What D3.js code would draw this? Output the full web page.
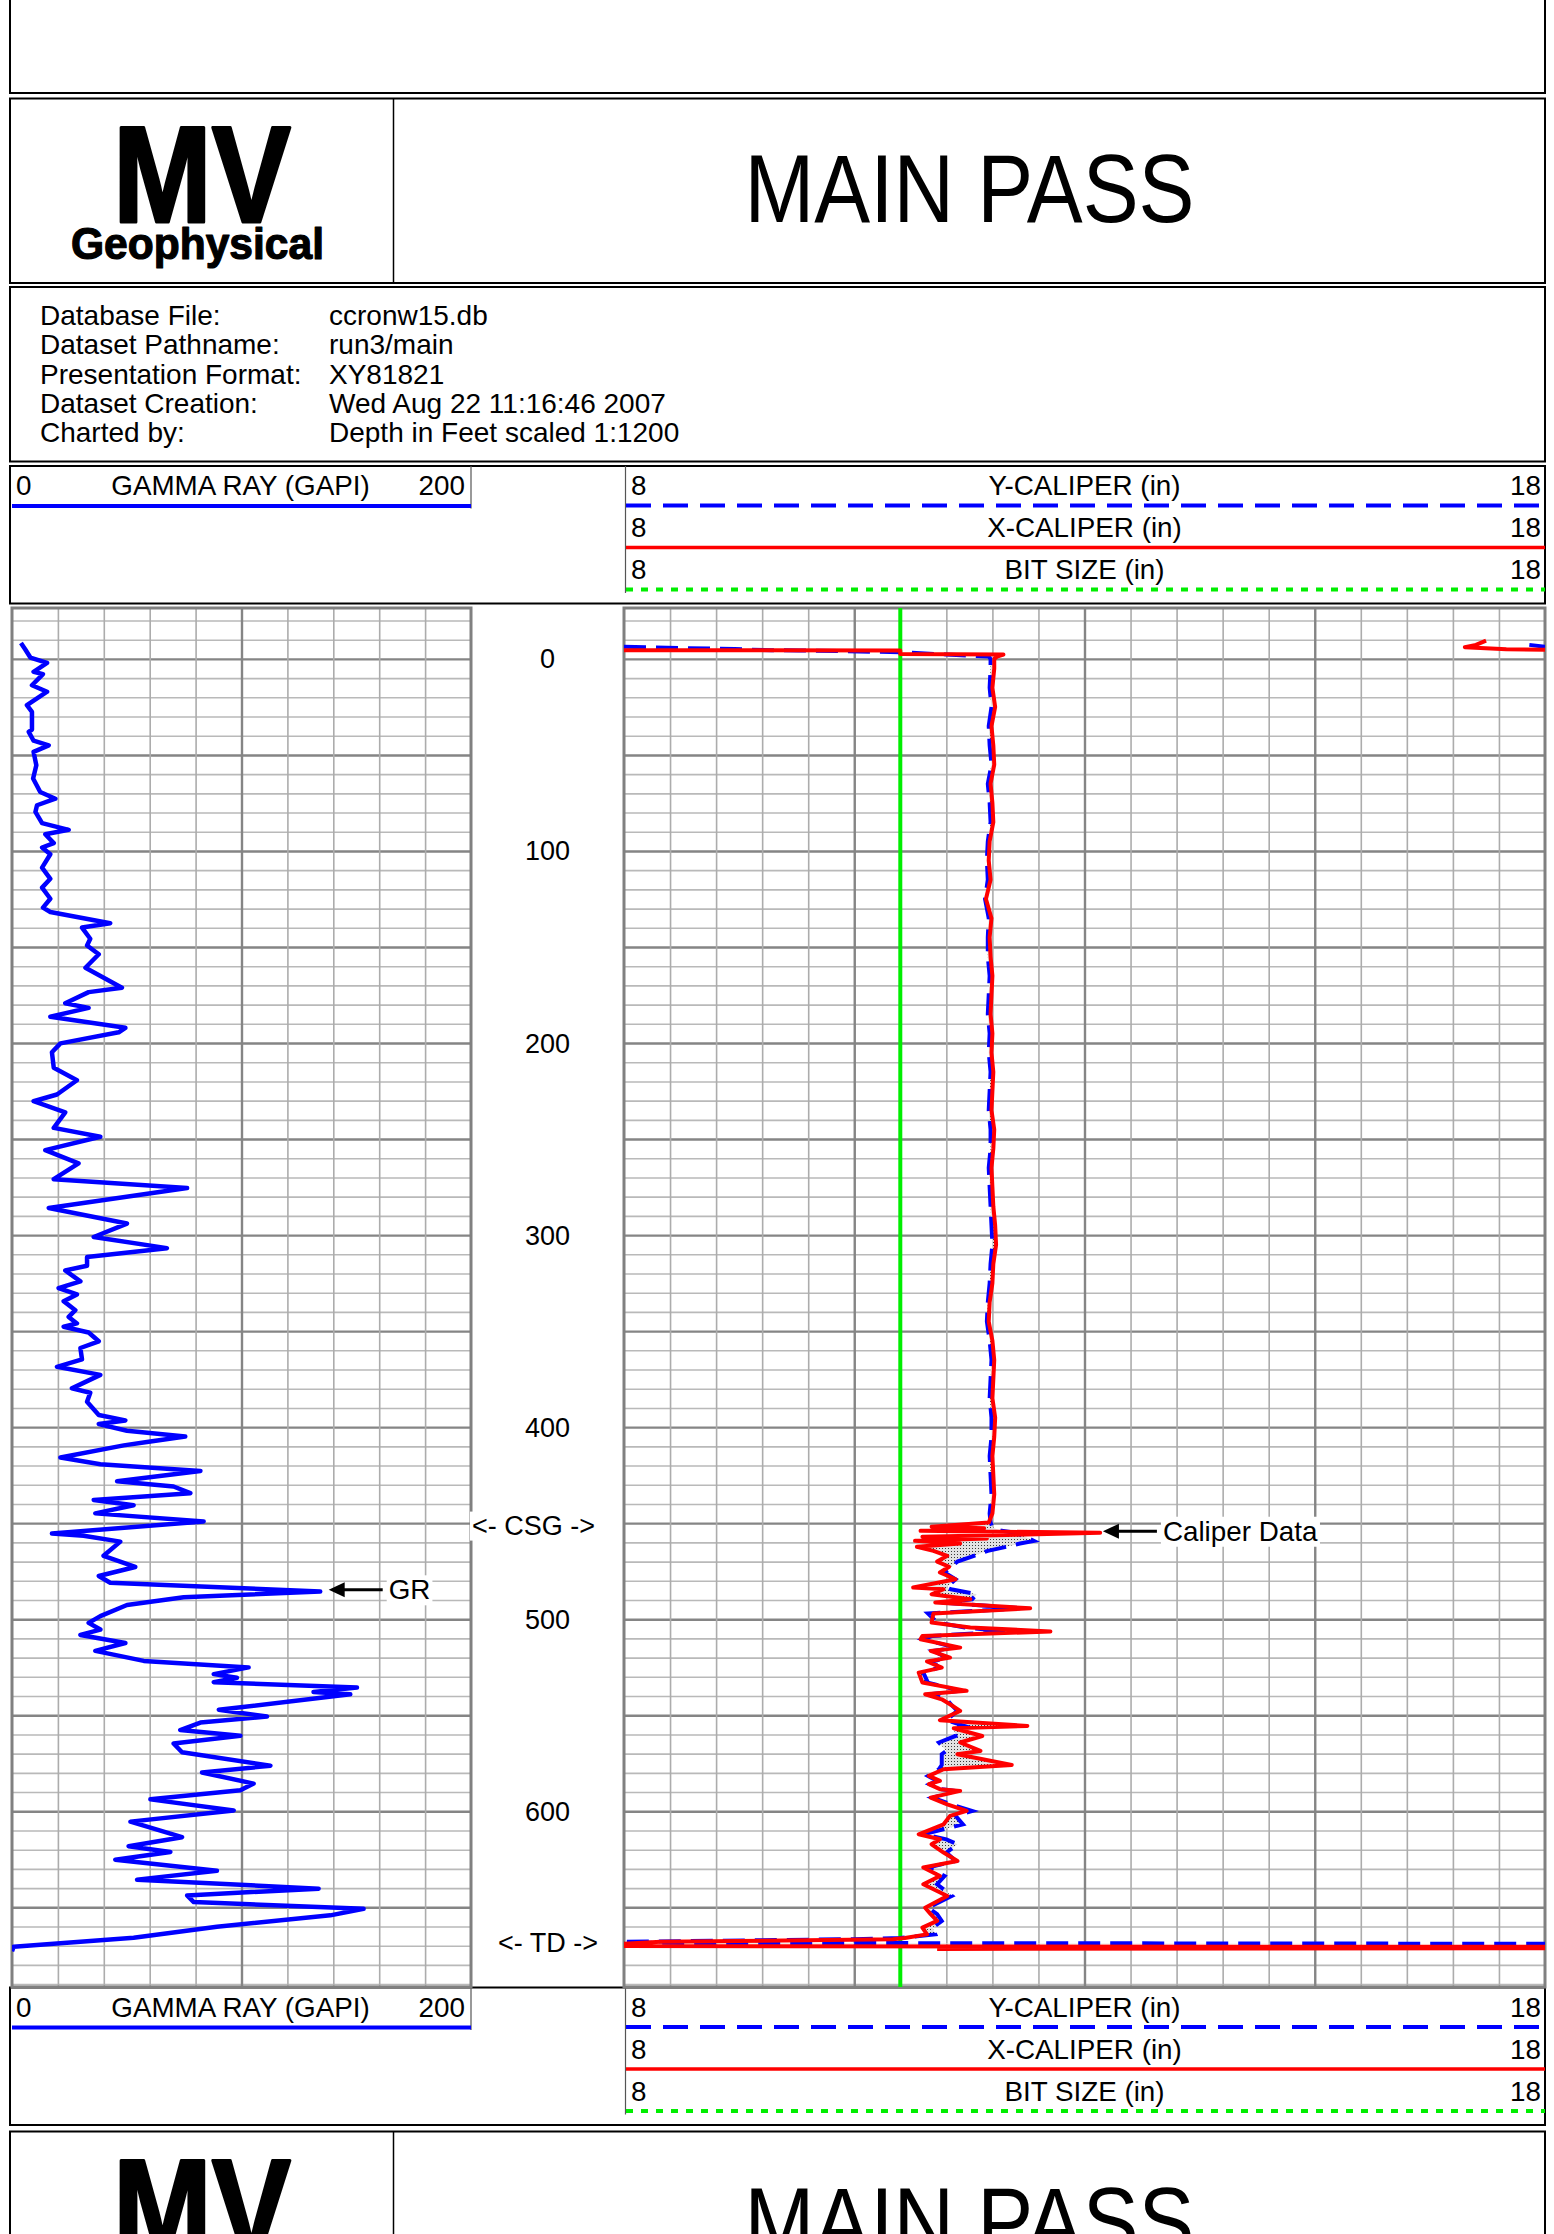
<!DOCTYPE html>
<html>
<head>
<meta charset="utf-8">
<script src="https://cdn.jsdelivr.net/npm/d3@7"></script>
<style>
  html, body { margin: 0; padding: 0; background: #fff; }
  svg { display: block; }
  text { font-family: "Liberation Sans", Arial, Helvetica, sans-serif; fill: #000; }
</style>
</head>
<body>
<svg id="log" width="1554" height="2234"></svg>
<script>
// ---------- data ----------
const infoLabels = ["Database File:", "Dataset Pathname:", "Presentation Format:", "Dataset Creation:", "Charted by:"];
const infoValues = ["ccronw15.db", "run3/main", "XY81821", "Wed Aug 22 11:16:46 2007", "Depth in Feet scaled 1:1200"];

const depthLabels = [0, 100, 200, 300, 400, 500, 600];
const casingDepth = 451;
const tdDepth = 668.5;
const bitSize = 11;

// gamma ray (GAPI) against depth (ft)
const grDepth = [-8.3, -4.9, -0.7, 2.1, 6.7, 7.9, 13.7, 17.1, 24.1, 27.6, 36.8, 38.0, 42.6, 45.0, 48.4, 55.4, 62.3, 69.3, 72.8, 76.2,
  79.7, 85.5, 89.0, 91.3, 95.9, 98.2, 101.7, 108.7, 114.5, 119.1, 124.9, 129.5, 131.8, 137.6, 139.9, 145.7, 149.2, 153.8, 160.8, 171.2,
  173.5, 179.3, 181.7, 186.3, 192.1, 194.4, 200.2, 204.8, 212.9, 219.4, 226.8, 230.3, 236.1, 244.2, 248.8, 255.8, 262.7, 270.9, 275.5, 285.9,
  294.0, 301.0, 306.8, 311.4, 316.0, 318.4, 324.1, 327.6, 330.9, 334.4, 339.1, 342.6, 346.0, 347.7, 350.7, 355.3, 358.8, 364.7, 368.6, 372.8,
  379.8, 382.1, 386.8, 393.7, 396.5, 398.4, 401.9, 404.9, 407.7, 409.5, 415.8, 419.3, 422.8, 428.2, 430.9, 434.4, 437.9, 440.7, 444.9, 449.1,
  455.4, 456.5, 459.6, 467.0, 472.8, 477.5, 481.0, 485.6, 488.6, 492.6, 498.4, 501.9, 505.4, 508.2, 512.4, 516.5, 521.7, 525.1, 528.6, 530.5,
  532.8, 535.6, 537.9, 539.1, 547.2, 550.7, 553.8, 557.7, 560.7, 564.7, 569.3, 576.3, 579.8, 585.6, 589.1, 593.8, 599.6, 605.4, 613.5, 618.2,
  621.2, 625.2, 631.0, 635.6, 640.3, 643.8, 647.3, 650.8, 654.2, 660.1, 665.9, 670.5, 672.9];
const grValue = [3.9, 5.8, 8.0, 15.3, 9.4, 13.5, 8.7, 15.3, 6.5, 8.7, 8.7, 7.3, 9.4, 16.0, 9.4, 10.6, 9.2, 12.3, 18.9, 10.9,
  10.2, 13.1, 24.7, 14.5, 18.2, 13.1, 16.7, 13.1, 16.7, 13.1, 16.7, 13.5, 16.7, 42.8, 30.5, 34.1, 32.7, 37.8, 32.0, 47.9,
  33.4, 23.2, 33.4, 16.7, 49.4, 46.5, 21.1, 17.4, 18.2, 28.3, 19.6, 9.4, 23.2, 18.2, 38.5, 14.5, 29.0, 18.2, 76.3, 16.0,
  50.1, 35.6, 67.5, 32.7, 32.7, 23.2, 29.8, 20.3, 28.3, 22.5, 27.6, 24.7, 28.3, 22.5, 33.4, 37.8, 29.8, 30.5, 19.6, 38.5,
  26.1, 34.1, 32.7, 37.8, 49.4, 37.8, 50.1, 75.5, 58.8, 48.7, 21.1, 38.5, 82.1, 45.8, 70.4, 77.7, 35.6, 53.0, 36.3, 83.5,
  17.4, 31.2, 47.2, 39.9, 53.7, 37.8, 42.8, 134.3, 74.8, 50.1, 38.5, 33.4, 38.5, 29.8, 49.4, 36.3, 57.4, 103.1, 87.9, 98.0,
  87.9, 150.3, 131.4, 147.4, 90.1, 111.1, 82.1, 73.3, 99.5, 70.4, 74.1, 112.6, 82.8, 105.3, 99.5, 60.3, 96.6, 51.6, 74.1, 50.8,
  69.0, 45.0, 89.3, 54.5, 133.6, 76.3, 79.2, 153.2, 138.7, 89.3, 53.0, 0.7, 0.0];

// X and Y caliper (in) on a shared depth list; null = no reading
const calDepth = [-6.3, -5.1, -4.5, -4.4, -3.5, -2.5, -2.3, -1.2, 0,
  5, 15, 25, 35, 45, 55, 65, 75, 85, 95,
  105, 115, 125, 135, 145, 155, 165, 175, 185, 195,
  205, 215, 225, 235, 245, 255, 265, 275, 285, 295,
  305, 315, 325, 335, 345, 355, 365, 375, 385, 395,
  405, 415, 425, 435, 445,
  449.7, 451.9, 452.6, 454.0, 455.0, 457.1, 458.0, 459.2, 460.6, 462.3,
  464.4, 467.0, 470.0, 472.7, 475.7, 479.2, 483.5, 484.4, 487.0, 489.6,
  491.3, 494.3, 497.0, 501.7, 504.3, 506.4, 508.7, 510.4, 514.8, 516.5,
  520.0, 522.0, 525.2, 527.8, 533.0, 537.3, 539.1, 541.7, 544.3, 547.7,
  552.6, 555.6, 556.8, 560.8, 564.2, 568.6, 570.3, 575.9, 578.1, 581.6,
  584.2, 585.9, 588.5, 589.4, 592.9, 596.4, 599.8, 602.4, 606.8, 612.0,
  614.6, 617.2, 621.5, 625.9, 629.3, 633.7, 638.0, 644.1, 650.2, 653.6,
  657.1, 660.6, 664.1, 666.0, 666.6, 668.0, 668.5, 669.0, 670.2, 670.6,
  671.3, 671.7];
const xCaliper = [null, null, 8.0, 11.0, 11.0, 11.0, 12.12, 12.05, 12.02,
  12.02, 12.00, 12.03, 11.99, 12.01, 12.02, 11.98, 12.00, 12.01, 11.97,
  11.96, 11.98, 11.93, 11.99, 11.97, 11.98, 12.00, 11.99, 11.98, 12.00,
  11.99, 12.01, 12.00, 11.99, 12.02, 12.01, 11.99, 12.00, 12.01, 12.03,
  12.04, 12.01, 12.00, 11.97, 11.96, 12.00, 12.02, 12.01, 12.00, 12.03,
  12.02, 12.00, 12.01, 12.02, 12.00,
  11.96, 11.34, 11.91, 11.22, 13.17, 11.24, 11.94, 11.16, 11.65, 11.18,
  11.36, 11.51, 11.40, 11.53, 11.43, 11.60, 11.14, 11.47, 11.34, 11.76,
  11.38, 12.41, 11.36, 11.34, 11.76, 12.63, 11.24, 11.22, 11.65, 11.33,
  11.54, 11.29, 11.45, 11.20, 11.24, 11.72, 11.27, 11.45, 11.54, 11.65,
  11.43, 12.38, 11.58, 11.89, 11.65, 11.87, 11.62, 12.21, 11.47, 11.31,
  11.43, 11.31, 11.43, 11.65, 11.33, 11.51, 11.72, 11.54, 11.47, 11.20,
  11.43, 11.34, 11.47, 11.62, 11.25, 11.43, 11.25, 11.51, 11.27, 11.33,
  11.40, 11.24, 11.29, 11.05, 10.92, 8.40, 8.20, 8.00, 8.00, 18.00,
  18.00, 11.40];
const yCaliper = [8.0, 9.2, 9.6, 9.9, 11.0, 11.4, 11.5, 11.96, 11.98,
  11.98, 11.97, 11.99, 11.96, 11.97, 11.99, 11.95, 11.97, 11.98, 11.95,
  11.94, 11.95, 11.92, 11.96, 11.95, 11.95, 11.97, 11.96, 11.95, 11.97,
  11.96, 11.98, 11.97, 11.96, 11.98, 11.98, 11.96, 11.97, 11.98, 11.99,
  12.00, 11.98, 11.97, 11.95, 11.94, 11.97, 11.99, 11.98, 11.97, 11.99,
  11.99, 11.97, 11.98, 11.99, 11.97,
  11.98, 12.00, 12.02, 12.10, 12.25, 12.35, 12.40, 12.45, 12.30, 12.15,
  11.95, 11.80, 11.62, 11.55, 11.48, 11.60, 11.50, 11.55, 11.83, 11.78,
  11.45, 12.30, 11.30, 11.40, 11.70, 12.15, 11.35, 11.25, 11.60, 11.36,
  11.50, 11.35, 11.42, 11.25, 11.30, 11.65, 11.32, 11.50, 11.55, 11.62,
  11.50, 11.70, 11.58, 11.60, 11.42, 11.50, 11.45, 11.45, 11.42, 11.30,
  11.40, 11.32, 11.45, 11.60, 11.35, 11.55, 11.78, 11.60, 11.68, 11.25,
  11.50, 11.62, 11.50, 11.60, 11.30, 11.48, 11.40, 11.56, 11.30, 11.40,
  11.45, 11.35, 11.38, 11.00, 10.50, 8.00, 8.00, 18.00, null, null,
  null, null];

// readings below 8 in, drawn on the backup scale
const xBackupDepth = [-9.5, -7.3, -6.1, -5.0, -4.7];
const xBackupValue = [7.36, 7.25, 7.13, 7.58, 8.0];
const yBackupDepth = [-7.3, -6.3];
const yBackupValue = [7.83, 8.0];

// ---------- layout ----------
const L = 10, R = 1545;
const trackTop = 608, trackBottom = 1987;
const grLeft = 12, grRight = 471;
const calLeft = 624, calRight = 1545;
const BLUE = "#0000ff", RED = "#ff0000", GREEN = "#00ee00";

const svg = d3.select("#log");

const yDepth = d3.scaleLinear().domain([-26.5, 691.5]).range([trackTop, trackBottom]);
const xGR = d3.scaleLinear().domain([0, 200]).range([grLeft, grRight]);
const xCal = d3.scaleLinear().domain([8, 18]).range([calLeft, calRight]);
const xCalBackup = d3.scaleLinear().domain([-2, 8]).range([calLeft, calRight]);

function frame(y0, y1) {
  svg.append("rect").attr("x", L).attr("y", y0).attr("width", R - L).attr("height", y1 - y0)
    .attr("fill", "none").attr("stroke", "#000").attr("stroke-width", 2);
}

// ---------- title blocks ----------
frame(-4, 93);

function logoBlock(y0) {
  frame(y0, y0 + 184.5);
  svg.append("line").attr("x1", 393.5).attr("x2", 393.5).attr("y1", y0).attr("y2", y0 + 184.5)
    .attr("stroke", "#000").attr("stroke-width", 1.5);
  svg.append("text").attr("x", 113).attr("y", y0 + 123.2).attr("font-size", 137).attr("font-weight", 700)
    .attr("textLength", 178).attr("lengthAdjust", "spacingAndGlyphs")
    .attr("stroke", "#000").attr("stroke-width", 3).attr("stroke-linejoin", "round").text("MV");
  svg.append("text").attr("x", 71).attr("y", y0 + 160).attr("font-size", 44).attr("font-weight", 700)
    .attr("textLength", 253).attr("lengthAdjust", "spacingAndGlyphs")
    .attr("stroke", "#000").attr("stroke-width", 1.2).attr("stroke-linejoin", "round").text("Geophysical");
  svg.append("text").attr("x", 969.5).attr("y", y0 + 123.2).attr("font-size", 96).attr("text-anchor", "middle")
    .attr("textLength", 450).attr("lengthAdjust", "spacingAndGlyphs").text("MAIN PASS");
}
logoBlock(98.5);

frame(287, 461.5);
const info = svg.append("g").attr("font-size", 28);
infoLabels.forEach((t, i) => {
  info.append("text").attr("x", 40).attr("y", 325 + i * 29.3).text(t);
  info.append("text").attr("x", 329).attr("y", 325 + i * 29.3).text(infoValues[i]);
});

// ---------- curve legends (head and tail) ----------
function legendBlock(y0) {
  const h = 137.5;
  frame(y0, y0 + h);
  const g = svg.append("g").attr("font-size", 27.8);
  // gamma ray
  g.append("line").attr("x1", grRight).attr("x2", grRight).attr("y1", y0).attr("y2", y0 + 42.5)
    .attr("stroke", "#555").attr("stroke-width", 1.2);
  g.append("text").attr("x", 16).attr("y", y0 + 29).text("0");
  g.append("text").attr("x", (L + grRight) / 2).attr("y", y0 + 29).attr("text-anchor", "middle").text("GAMMA RAY (GAPI)");
  g.append("text").attr("x", 465).attr("y", y0 + 29).attr("text-anchor", "end").text("200");
  g.append("line").attr("x1", grLeft).attr("x2", grRight).attr("y1", y0 + 40).attr("y2", y0 + 40)
    .attr("stroke", BLUE).attr("stroke-width", 4);
  // caliper track
  g.append("line").attr("x1", calLeft + 1.5).attr("x2", calLeft + 1.5).attr("y1", y0).attr("y2", y0 + 127)
    .attr("stroke", "#555").attr("stroke-width", 1.2);
  const rows = [
    { name: "Y-CALIPER (in)", color: BLUE, dash: "25,12", w: 4 },
    { name: "X-CALIPER (in)", color: RED, dash: null, w: 3.5 },
    { name: "BIT SIZE (in)", color: GREEN, dash: "7,8", w: 4 }
  ];
  rows.forEach((r, i) => {
    const base = y0 + 29 + i * 42;
    g.append("text").attr("x", 631).attr("y", base).text(xCal.domain()[0]);
    g.append("text").attr("x", (calLeft + calRight) / 2).attr("y", base).attr("text-anchor", "middle").text(r.name);
    g.append("text").attr("x", 1541).attr("y", base).attr("text-anchor", "end").text(xCal.domain()[1]);
    g.append("line").attr("x1", calLeft + 2).attr("x2", calRight).attr("y1", base + 10.5).attr("y2", base + 10.5)
      .attr("stroke", r.color).attr("stroke-width", r.w).attr("stroke-dasharray", r.dash);
  });
}
legendBlock(466);
legendBlock(1987.5);

logoBlock(2131.5);

// ---------- grids ----------
const defs = svg.append("defs");
const pat = defs.append("pattern").attr("id", "stipple").attr("width", 3).attr("height", 3)
  .attr("patternUnits", "userSpaceOnUse");
pat.append("rect").attr("width", 3).attr("height", 3).attr("fill", "#e2e2e2");
pat.append("rect").attr("width", 1).attr("height", 1).attr("fill", "#3a3a3a");

function clip(id, x0, x1) {
  defs.append("clipPath").attr("id", id).append("rect")
    .attr("x", x0).attr("y", trackTop).attr("width", x1 - x0).attr("height", trackBottom - trackTop);
}
clip("clipGR", grLeft, grRight);
clip("clipCal", calLeft, calRight);

const depthTicks = d3.range(-20, 691, 10);

function trackGrid(xScale, x0, x1, vTicks, isMajor) {
  const g = svg.append("g");
  g.append("g").attr("transform", `translate(${x0},0)`)
    .call(d3.axisLeft(yDepth).tickValues(depthTicks).tickSize(-(x1 - x0)).tickFormat(""))
    .call(a => a.select(".domain").remove())
    .selectAll(".tick line")
    .attr("stroke", d => d % 50 === 0 ? "#858585" : "#b9b9b9")
    .attr("stroke-width", d => d % 50 === 0 ? 2.4 : 1.6);
  g.append("g").attr("transform", `translate(0,${trackTop})`)
    .call(d3.axisTop(xScale).tickValues(vTicks).tickSize(-(trackBottom - trackTop)).tickFormat(""))
    .call(a => a.select(".domain").remove())
    .selectAll(".tick line")
    .attr("stroke", d => isMajor(d) ? "#858585" : "#acacac")
    .attr("stroke-width", d => isMajor(d) ? 2.4 : 1.6);
  g.append("rect").attr("x", x0).attr("y", trackTop).attr("width", x1 - x0).attr("height", trackBottom - trackTop)
    .attr("fill", "none").attr("stroke", "#808080").attr("stroke-width", 3);
}
trackGrid(xGR, grLeft, grRight, d3.range(20, 200, 20), d => d === 100);
trackGrid(xCal, calLeft, calRight, d3.range(8.5, 18, 0.5), d => Math.abs(((d - 8) / 2.5) - Math.round((d - 8) / 2.5)) < 1e-6);

// ---------- depth column ----------
const depthG = svg.append("g").attr("font-size", 27).attr("text-anchor", "middle");
depthLabels.forEach(d => {
  depthG.append("text").attr("x", 547.5).attr("y", yDepth(d) + 9.5).text(d);
});

function boxedLabel(parent, x, y, txt, anchor, size) {
  const t = parent.append("text").attr("x", x).attr("y", y).attr("font-size", size || 27)
    .attr("text-anchor", anchor).text(txt);
  const b = t.node().getBBox();
  parent.insert("rect", () => t.node()).attr("x", b.x - 2).attr("y", b.y + 1).attr("width", b.width + 4)
    .attr("height", b.height - 1).attr("fill", "#fff");
  return t;
}

// ---------- gamma ray ----------
const grLine = d3.line().x(d => xGR(d.v)).y(d => yDepth(d.d));
svg.append("path").datum(grDepth.map((d, i) => ({ d, v: grValue[i] })))
  .attr("clip-path", "url(#clipGR)").attr("d", grLine)
  .attr("fill", "none").attr("stroke", BLUE).attr("stroke-width", 4.5).attr("stroke-linejoin", "round");

// ---------- calipers ----------
const calG = svg.append("g").attr("clip-path", "url(#clipCal)");
calG.append("line").attr("x1", xCal(bitSize)).attr("x2", xCal(bitSize))
  .attr("y1", trackTop).attr("y2", trackBottom).attr("stroke", GREEN).attr("stroke-width", 4);

const calRows = calDepth.map((d, i) => ({ d, x: xCaliper[i], y: yCaliper[i] }));
const between = d3.area().defined(r => r.x != null && r.y != null)
  .x0(r => xCal(r.x)).x1(r => xCal(r.y)).y(r => yDepth(r.d));
calG.append("path").datum(calRows).attr("d", between).attr("fill", "url(#stipple)");

const yLine = d3.line().defined(r => r.y != null).x(r => xCal(r.y)).y(r => yDepth(r.d));
const xLine = d3.line().defined(r => r.x != null).x(r => xCal(r.x)).y(r => yDepth(r.d));
calG.append("path").datum(calRows).attr("d", yLine).attr("fill", "none")
  .attr("stroke", BLUE).attr("stroke-width", 4).attr("stroke-dasharray", "22,10");
const yBk = d3.line().x(d => xCalBackup(d.v)).y(d => yDepth(d.d));
calG.append("path").datum(yBackupDepth.map((d, i) => ({ d, v: yBackupValue[i] }))).attr("d", yBk)
  .attr("fill", "none").attr("stroke", BLUE).attr("stroke-width", 4);
calG.append("path").datum(calRows).attr("d", xLine).attr("fill", "none")
  .attr("stroke", RED).attr("stroke-width", 4).attr("stroke-linejoin", "round");
calG.append("path").datum(xBackupDepth.map((d, i) => ({ d, v: xBackupValue[i] }))).attr("d", yBk)
  .attr("fill", "none").attr("stroke", RED).attr("stroke-width", 4).attr("stroke-linejoin", "round");

// ---------- annotations ----------
const ann = svg.append("g");
boxedLabel(ann, 533.5, yDepth(casingDepth) + 9.5, "<- CSG ->", "middle");
boxedLabel(ann, 548, yDepth(tdDepth) + 9.5, "<- TD ->", "middle");

function pointer(tipX, tipY, len, label) {
  ann.append("path")
    .attr("d", `M${tipX},${tipY} L${tipX + 16},${tipY - 7.5} L${tipX + 16},${tipY + 7.5} Z`).attr("fill", "#000");
  ann.append("line").attr("x1", tipX + 14).attr("x2", tipX + len).attr("y1", tipY).attr("y2", tipY)
    .attr("stroke", "#000").attr("stroke-width", 3);
  boxedLabel(ann, tipX + len + 6, tipY + 9.5, label, "start", 27.8);
}
pointer(xGR(138), yDepth(484.7), 54, "GR");
pointer(xCal(13.2), yDepth(454.2), 54, "Caliper Data");
</script>
</body>
</html>
